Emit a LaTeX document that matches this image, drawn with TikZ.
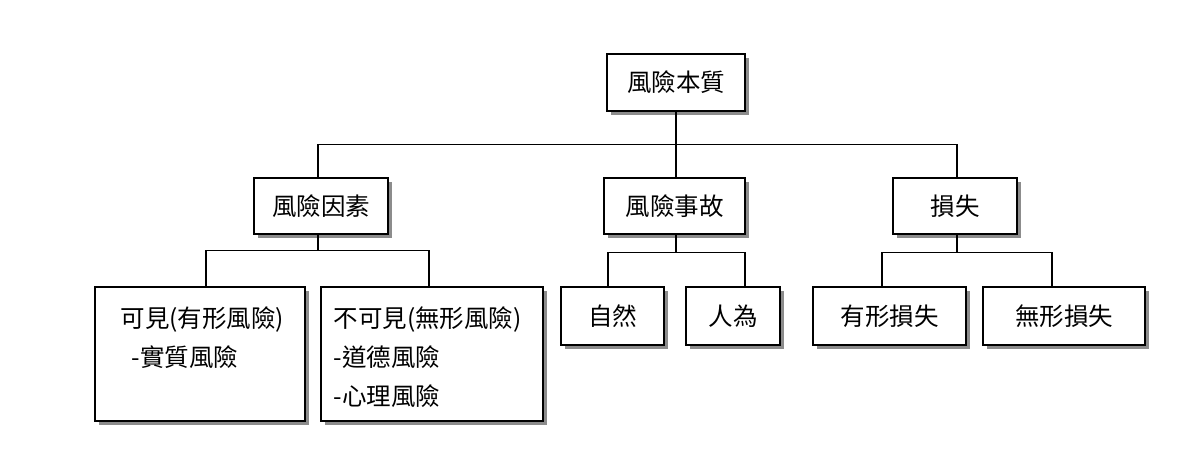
\documentclass[tikz,border=0pt]{standalone}
\usepackage{fontspec}
\setmainfont{Noto Sans CJK TC}
\usetikzlibrary{positioning, shadows}
\tikzset{
    riskbox/.style={draw=black, line width=1.4pt, fill=white, inner sep=0pt, font=\fontsize{24.5}{38}\selectfont,
        drop shadow={shadow xshift=4pt, shadow yshift=-4pt, fill=black!45, opacity=1}},
    linkline/.style={line width=1.4pt},
    boxtext/.style={inner sep=0pt, align=left, font=\fontsize{24.5}{39}\selectfont}
}

\begin{document}
\begin{tikzpicture}[x=1pt,y=-1pt]
            \path[fill=white, use as bounding box] (0,0) rectangle (1198,452);
            % top
            \node[riskbox, minimum width=138pt, minimum height=57pt] (root) at (676,82.5) {風險本質};
            % second row
            \node[riskbox, minimum width=134pt, minimum height=56pt] (fac) at (321,206) {風險因素};
            \node[riskbox, minimum width=141pt, minimum height=56pt] (acc) at (674.5,206) {風險事故};
            \node[riskbox, minimum width=124pt, minimum height=56pt] (loss) at (955,206) {損失};
            % third row
            \node[riskbox, minimum width=210pt, minimum height=134pt] (vis) at (200,354) {};
            \node[riskbox, minimum width=222pt, minimum height=134pt] (invis) at (432,354) {};
            \node[riskbox, minimum width=103pt, minimum height=58pt] (nat) at (612.5,316) {自然};
            \node[riskbox, minimum width=94pt, minimum height=58pt] (hum) at (733,316) {人為};
            \node[riskbox, minimum width=153pt, minimum height=58pt] (tang) at (889.5,316) {有形損失};
            \node[riskbox, minimum width=162pt, minimum height=58pt] (intang) at (1064,316) {無形損失};
            \node[boxtext, below right=20pt and 26pt of vis.north west] (vistext) {可見(有形風險)\\\hspace{11pt}-實質風險};
            \node[boxtext, below right=20pt and 13pt of invis.north west] (invistext) {不可見(無形風險)\\-道德風險\\-心理風險};
            % connectors
            \draw[linkline] (root.south) -- ++(0,33) coordinate (j0);
            \draw[linkline] (j0) -| ([xshift=-3pt]fac.north);
            \draw[linkline] (j0) -- (acc.north -| j0);
            \draw[linkline] (j0) -| ([xshift=2pt]loss.north);
            \draw[linkline] ([xshift=-3pt]fac.south) -- ++(0,16) coordinate (j1);
            \draw[linkline] (j1) -| ([xshift=6pt]vis.north);
            \draw[linkline] (j1) -| ([xshift=-3pt]invis.north);
            \draw[linkline] ([xshift=1.5pt]acc.south) -- ++(0,18) coordinate (j2);
            \draw[linkline] (j2) -| ([xshift=-4.5pt]nat.north);
            \draw[linkline] (j2) -| ([xshift=12pt]hum.north);
            \draw[linkline] ([xshift=2pt]loss.south) -- ++(0,18) coordinate (j3);
            \draw[linkline] (j3) -| ([xshift=-7.5pt]tang.north);
            \draw[linkline] (j3) -| ([xshift=-12pt]intang.north);
\end{tikzpicture}
\end{document}
